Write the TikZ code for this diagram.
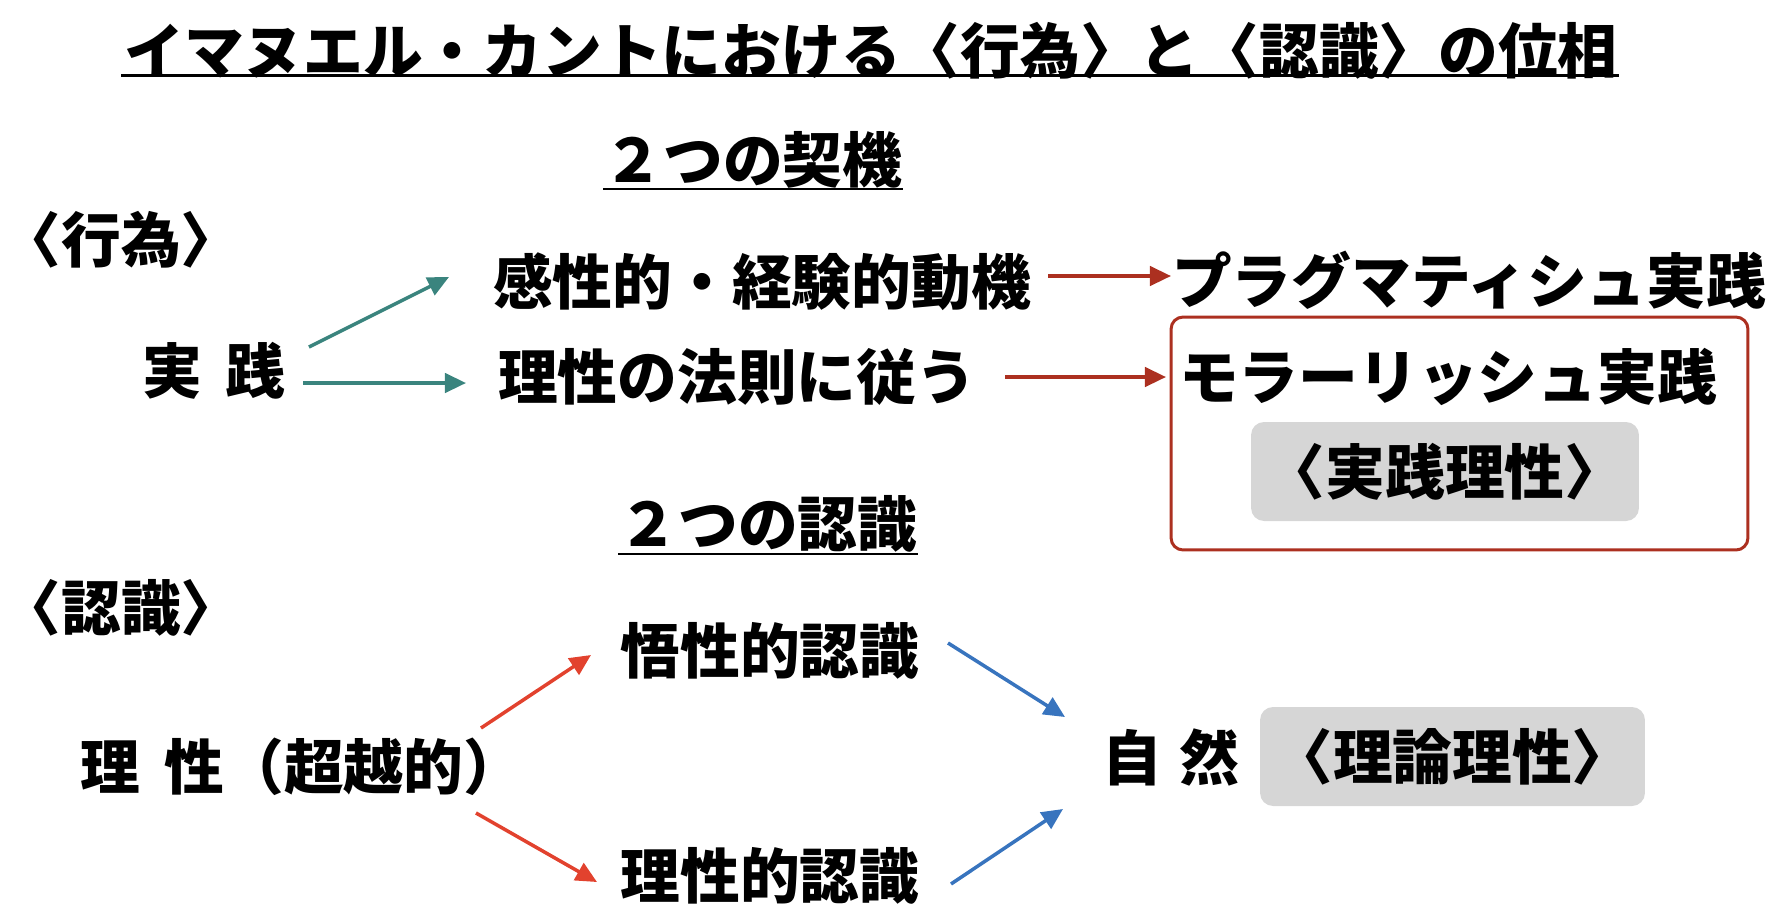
\documentclass[tikz,border=0pt]{standalone}
\usepackage{fontspec}
\setmainfont{Noto Sans CJK JP}
\usetikzlibrary{arrows.meta}
\definecolor{teal_arrow}{RGB}{58,132,126}
\definecolor{moral_red}{RGB}{172,48,32}
\definecolor{reason_red}{RGB}{226,66,46}
\definecolor{nature_blue}{RGB}{56,116,190}
\definecolor{reason_gray}{RGB}{214,214,214}

\begin{document}
\begin{tikzpicture}[x=0.02cm,y=-0.02cm]
\tikzstyle{kanji_text}=[inner sep=0, font=\fontsize{34}{40}\selectfont\bfseries];
\tikzstyle{reason_box}=[fill=reason_gray, draw=none, rounded corners=0.26cm, minimum width=7.76cm, minimum height=1.98cm, inner sep=0];
\tikzstyle{moral_frame}=[draw=moral_red, line width=1.7pt, rounded corners=0.24cm, minimum width=11.54cm, minimum height=4.66cm, inner sep=0];
\tikzstyle{link_arrow}=[line width=2pt, -{Triangle[length=12pt,width=11pt]}];
\useasboundingbox (0,0) rectangle (1767,914);
\coordinate (title_pos) at (871,51);
\coordinate (title_rule_l) at (121,75);
\coordinate (title_rule_r) at (1619,75);
\coordinate (moments_pos) at (753,160);
\coordinate (moments_rule_l) at (603,189);
\coordinate (moments_rule_r) at (903,189);
\coordinate (cognitions_pos) at (768,524);
\coordinate (cognitions_rule_l) at (618,554);
\coordinate (cognitions_rule_r) at (918,554);
\coordinate (act_pos) at (121,240);
\coordinate (cog_pos) at (121,608);
\coordinate (practice_pos) at (214,371);
\coordinate (sensible_pos) at (762,282);
\coordinate (law_pos) at (737,377);
\coordinate (pragmatic_pos) at (1469,280);
\coordinate (moral_pos) at (1448,377);
\coordinate (frame_pos) at (1459.5,433.5);
\coordinate (practical_pos) at (1445,471.5);
\coordinate (understanding_pos) at (770,651);
\coordinate (rational_pos) at (770,876);
\coordinate (reason_pos) at (302,767);
\coordinate (nature_pos) at (1171,757);
\coordinate (theoretical_pos) at (1452.5,756.5);
\coordinate (p_up_s) at (309,347);
\coordinate (p_up_e) at (449,277);
\coordinate (p_law_s) at (303,383);
\coordinate (p_law_e) at (466,383);
\coordinate (s_prag_s) at (1048,276);
\coordinate (s_prag_e) at (1171,276);
\coordinate (l_moral_s) at (1005,377);
\coordinate (l_moral_e) at (1166,377);
\coordinate (r_up_s) at (481,728);
\coordinate (r_up_e) at (591,655);
\coordinate (r_down_s) at (476,813);
\coordinate (r_down_e) at (597,882);
\coordinate (u_nat_s) at (948,643);
\coordinate (u_nat_e) at (1065,717);
\coordinate (ra_nat_s) at (951,884);
\coordinate (ra_nat_e) at (1063,809);
\node (moral_frame) at (frame_pos) [style=moral_frame] {};
\node (practical_box) at (practical_pos) [style=reason_box] {};
\node (theoretical_box) at (theoretical_pos) [style=reason_box, minimum width=7.7cm] {};
\node (title) at (title_pos) [kanji_text] {イマヌエル・カントにおける〈行為〉と〈認識〉の位相};
\node (moments) at (moments_pos) [kanji_text] {２つの契機};
\node (cognitions) at (cognitions_pos) [kanji_text] {２つの認識};
\node (act_label) at (act_pos) [kanji_text] {〈行為〉};
\node (cog_label) at (cog_pos) [kanji_text] {〈認識〉};
\node (practice) at (practice_pos) [kanji_text] {実\hspace{.4em}践};
\node (sensible) at (sensible_pos) [kanji_text] {感性的・経験的動機};
\node (law) at (law_pos) [kanji_text] {理性の法則に従う};
\node (pragmatic) at (pragmatic_pos) [kanji_text] {プラグマティシュ実践};
\node (moral) at (moral_pos) [kanji_text] {モラーリッシュ実践};
\node (practical) at (practical_pos) [kanji_text] {〈実践理性〉};
\node (understanding) at (understanding_pos) [kanji_text] {悟性的認識};
\node (rational) at (rational_pos) [kanji_text] {理性的認識};
\node (reason) at (reason_pos) [kanji_text] {理\hspace{.4em}性（超越的）};
\node (nature) at (nature_pos) [kanji_text] {自\hspace{.3em}然};
\node (theoretical) at (theoretical_pos) [kanji_text] {〈理論理性〉};
\path (title_rule_l) -- (title_rule_r) [draw, line width=1.7pt];
\path (moments_rule_l) -- (moments_rule_r) [draw, line width=1.5pt];
\path (cognitions_rule_l) -- (cognitions_rule_r) [draw, line width=1.5pt];
\path (p_up_s) -- (p_up_e) [draw, link_arrow, color=teal_arrow];
\path (p_law_s) -- (p_law_e) [draw, link_arrow, color=teal_arrow];
\path (s_prag_s) -- (s_prag_e) [draw, link_arrow, color=moral_red];
\path (l_moral_s) -- (l_moral_e) [draw, link_arrow, color=moral_red];
\path (r_up_s) -- (r_up_e) [draw, link_arrow, color=reason_red];
\path (r_down_s) -- (r_down_e) [draw, link_arrow, color=reason_red];
\path (u_nat_s) -- (u_nat_e) [draw, link_arrow, color=nature_blue];
\path (ra_nat_s) -- (ra_nat_e) [draw, link_arrow, color=nature_blue];
\end{tikzpicture}
\end{document}
